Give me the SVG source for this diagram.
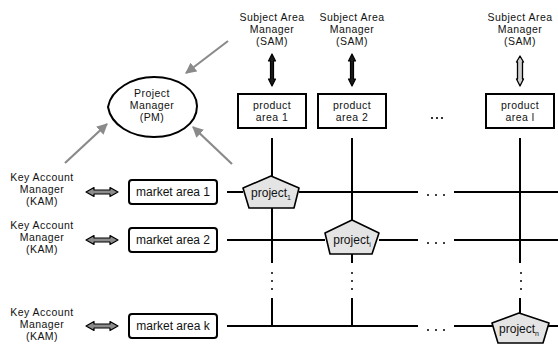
<svg xmlns="http://www.w3.org/2000/svg" width="558" height="345" viewBox="0 0 558 345">
  <defs>
    <marker id="grayHead" viewBox="0 0 10 10" refX="9" refY="5" markerWidth="5" markerHeight="5" orient="auto" markerUnits="strokeWidth">
      <path d="M0,0 L10,5 L0,10 Z" fill="#8a8a8a"/>
    </marker>
  </defs>
  <style>
    text { font-family: "Liberation Sans", Arial, sans-serif; font-size: 12px; fill: #111; text-anchor: middle; }
    .label text { font-size: 10.5px; letter-spacing: 0.45px; }
    .grid { stroke: #000; stroke-width: 2; fill: none; }
    .box { fill: #fff; stroke: #000; stroke-width: 2; }
    .proj { fill: #e4e4e4; stroke: #000; stroke-width: 1.6; stroke-linejoin: round; }
    .feed { stroke: #8a8a8a; stroke-width: 2.2; fill: none; marker-end: url(#grayHead); }
    .dot { fill: #000; }
    .samArrow { fill: #1a1a1a; stroke: #000; stroke-width: 1.2; stroke-linejoin: round; }
    .samArrowLight { fill: #d0d0d0; stroke: #000; stroke-width: 1.3; stroke-linejoin: round; }
    .kamArrow { fill: #8c8c8c; stroke: #000; stroke-width: 1.2; stroke-linejoin: round; }
    .sub { font-size: 7px; }
  </style>

  <!-- grid of connectors between areas and projects -->
  <g id="connectors">
    <!-- columns -->
    <path class="grid" d="M272,138 V176 M272,208 V263 M272,298 V326"/>
    <path class="grid" d="M352,138 V220 M352,254 V263 M352,298 V326"/>
    <path class="grid" d="M520,138 V263 M520,298 V313"/>
    <!-- rows -->
    <path class="grid" d="M227,192 H243 M299,192 H418 M454,192 H558"/>
    <path class="grid" d="M227,240 H325 M379,240 H418 M454,240 H558"/>
    <path class="grid" d="M227,326 H418 M454,326 H493 M548,326 H558"/>
    <!-- ellipsis dots -->
    <g class="dot">
      <circle cx="428" cy="195" r="1"/><circle cx="436" cy="195" r="1"/><circle cx="444" cy="195" r="1"/>
      <circle cx="428" cy="243" r="1"/><circle cx="436" cy="243" r="1"/><circle cx="444" cy="243" r="1"/>
      <circle cx="428" cy="330" r="1"/><circle cx="436" cy="330" r="1"/><circle cx="444" cy="330" r="1"/>
      <circle cx="432" cy="118" r="1.1"/><circle cx="437" cy="118" r="1.1"/><circle cx="442" cy="118" r="1.1"/>
      <circle cx="272" cy="273" r="1"/><circle cx="272" cy="281" r="1"/><circle cx="272" cy="289" r="1"/>
      <circle cx="352" cy="273" r="1"/><circle cx="352" cy="281" r="1"/><circle cx="352" cy="289" r="1"/>
      <circle cx="521" cy="273" r="1"/><circle cx="521" cy="281" r="1"/><circle cx="521" cy="289" r="1"/>
    </g>
    <!-- reporting arrows towards the project manager -->
    <line class="feed" x1="228" y1="41" x2="186" y2="73"/>
    <line class="feed" x1="65" y1="163" x2="107" y2="124"/>
    <line class="feed" x1="232" y1="164" x2="193" y2="127"/>
    <!-- SAM double arrows -->
    <polygon class="samArrow" points="272,54 275.5,61 273.5,61 273.5,79 275.5,79 272,86 268.5,79 270.5,79 270.5,61 268.5,61"/>
    <polygon class="samArrow" points="352,54 355.5,61 353.5,61 353.5,79 355.5,79 352,86 348.5,79 350.5,79 350.5,61 348.5,61"/>
    <polygon class="samArrowLight" points="520,56 523.5,62 522.5,62 522.5,79 523.5,79 520,86 516.5,79 517.5,79 517.5,62 516.5,62"/>
    <!-- KAM double arrows -->
    <polygon class="kamArrow" points="86,192 94,187.5 94,190 110,190 110,187.5 118,192 110,196.5 110,194 94,194 94,196.5"/>
    <polygon class="kamArrow" points="86,240 94,235.5 94,238 110,238 110,235.5 118,240 110,244.5 110,242 94,242 94,244.5"/>
    <polygon class="kamArrow" points="86,326 94,321.5 94,324 110,324 110,321.5 118,326 110,330.5 110,328 94,328 94,330.5"/>
  </g>

  <g id="pm" class="label">
    <path class="box" d="M108,107 C111,89 133,77 154,77 C178,77 197,90 197,106 C197,124 178,137 154,137 C131,137 111,125 108,107 Z"/>
    <text x="152" y="97">Project</text>
    <text x="152" y="109">Manager</text>
    <text x="152" y="121">(PM)</text>
  </g>

  <g id="sam1" class="label">
    <text x="272" y="21">Subject Area</text>
    <text x="272" y="33">Manager</text>
    <text x="272" y="45">(SAM)</text>
  </g>
  <g id="sam2" class="label">
    <text x="352" y="21">Subject Area</text>
    <text x="352" y="33">Manager</text>
    <text x="352" y="45">(SAM)</text>
  </g>
  <g id="saml" class="label">
    <text x="520" y="21">Subject Area</text>
    <text x="520" y="33">Manager</text>
    <text x="520" y="45">(SAM)</text>
  </g>

  <g id="product1" class="label">
    <rect class="box" x="238" y="94" width="68" height="34"/>
    <text x="272" y="109">product</text>
    <text x="272" y="121">area 1</text>
  </g>
  <g id="product2" class="label">
    <rect class="box" x="318" y="94" width="68" height="34"/>
    <text x="352" y="109">product</text>
    <text x="352" y="121">area 2</text>
  </g>
  <g id="productl" class="label">
    <rect class="box" x="486" y="94" width="68" height="34"/>
    <text x="520" y="109">product</text>
    <text x="520" y="121">area l</text>
  </g>

  <g id="kam1" class="label">
    <text x="42" y="181">Key Account</text>
    <text x="42" y="193">Manager</text>
    <text x="42" y="205">(KAM)</text>
  </g>
  <g id="kam2" class="label">
    <text x="42" y="229">Key Account</text>
    <text x="42" y="241">Manager</text>
    <text x="42" y="253">(KAM)</text>
  </g>
  <g id="kamk" class="label">
    <text x="42" y="316">Key Account</text>
    <text x="42" y="328">Manager</text>
    <text x="42" y="340">(KAM)</text>
  </g>

  <g id="market1">
    <rect class="box" x="129" y="180" width="88" height="24" rx="3"/>
    <text x="173" y="196">market area 1</text>
  </g>
  <g id="market2">
    <rect class="box" x="129" y="228" width="88" height="24" rx="3"/>
    <text x="173" y="244">market area 2</text>
  </g>
  <g id="marketk">
    <rect class="box" x="129" y="314" width="88" height="24" rx="3"/>
    <text x="173" y="330">market area k</text>
  </g>

  <g id="project1">
    <polygon class="proj" points="271,176 299,188 294,208 249,208 243,188"/>
    <text x="271" y="197">project<tspan class="sub" dy="3">1</tspan></text>
  </g>
  <g id="projecti">
    <polygon class="proj" points="352,220 379,233 372,254 330,254 325,233"/>
    <text x="352" y="244">project<tspan class="sub" dy="3">i</tspan></text>
  </g>
  <g id="projectn">
    <polygon class="proj" points="519,313 549,323 543,343 498,343 492,323"/>
    <text x="519" y="333">project<tspan class="sub" dy="3">n</tspan></text>
  </g>
</svg>
